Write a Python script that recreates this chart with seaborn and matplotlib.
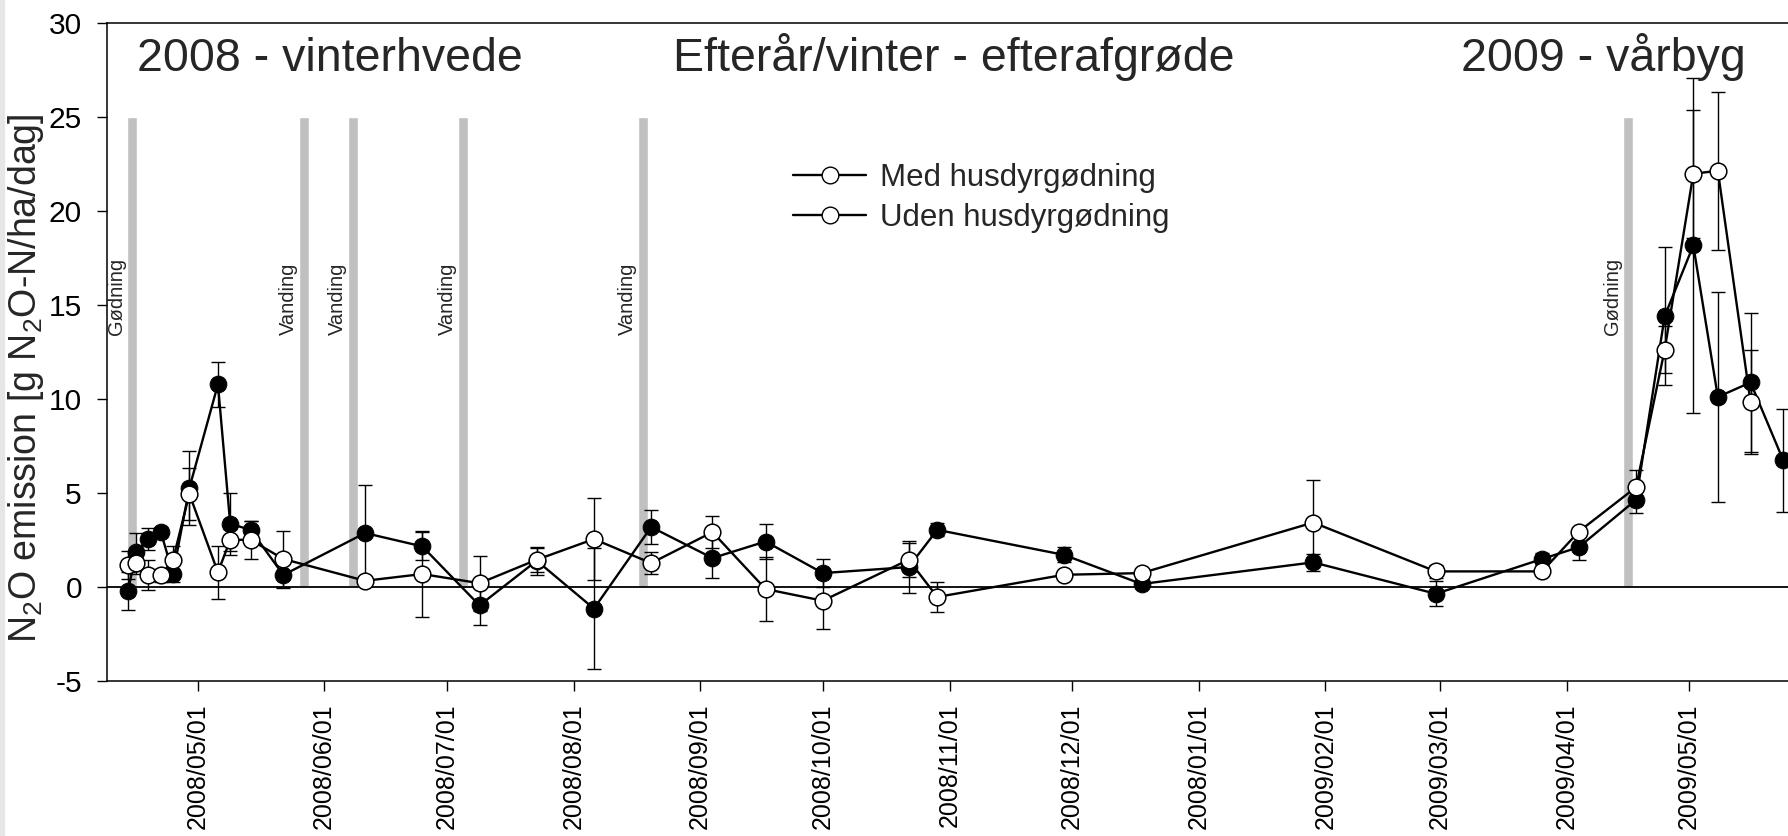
import numpy as np
import pandas as pd
import matplotlib
matplotlib.use('Agg')
import matplotlib.pyplot as plt
from matplotlib.lines import Line2D
from matplotlib.patches import Rectangle
import seaborn as sns

# ============================================================
# DATA
# ============================================================

sample_dates = ['2008-04-14', '2008-04-16', '2008-04-19', '2008-04-22', '2008-04-25',
                '2008-04-29', '2008-05-06', '2008-05-09', '2008-05-14', '2008-05-22',
                '2008-06-11', '2008-06-25', '2008-07-09', '2008-07-23', '2008-08-06',
                '2008-08-20', '2008-09-04', '2008-09-17', '2008-10-01', '2008-10-22',
                '2008-10-29', '2008-11-29', '2008-12-18', '2009-01-29', '2009-02-28',
                '2009-03-26', '2009-04-04', '2009-04-18', '2009-04-25', '2009-05-02',
                '2009-05-08', '2009-05-16', '2009-05-24']

med = [-0.2, 1.85, 2.56, 2.95, 0.7, 5.26, 10.78, 3.36, 3.04, 0.64,
       2.87, 2.16, -0.98, 1.4, -1.15, 3.19, 1.54, 2.42, 0.74, 1.06,
       3.04, 1.71, 0.16, 1.31, -0.36, 1.49, 2.12, 4.64, 14.41, 18.17,
       10.11, 10.88, 6.74]
med_err = [1.0, 1.0, 0.6, 0.2, 0.45, 1.95, 1.2, 1.65, 0.45, 0.7,
           2.55, 0.75, 1.05, 0.75, 3.2, 0.9, 1.05, 0.95, 0.76, 1.4,
           0.35, 0.4, 0.15, 0.44, 0.67, 0.3, 0.67, 0.7, 3.65, 8.9,
           5.6, 3.7, 2.75]

uden = [1.15, 1.27, 0.62, 0.62, 1.45, 4.95, 0.78, 2.51, 2.51, 1.49,
        0.33, 0.69, 0.2, 1.45, 2.55, 1.27, 2.92, -0.11, -0.73, 1.45,
        -0.53, 0.65, 0.74, 3.43, 0.83, 0.83, 2.95, 5.31, 12.63, 21.98,
        22.14, 9.83, np.nan]
uden_err = [0.75, 0.6, 0.8, 0.35, 0.75, 1.4, 1.4, 0.6, 1.0, 1.5,
            0.2, 2.3, 1.45, 0.65, 2.2, 0.6, 0.87, 1.72, 1.5, 0.9,
            0.8, 0.1, 0.1, 2.27, 0.35, 0.1, 0.2, 0.9, 1.27, 3.4,
            4.2, 2.75, np.nan]

series_names = ['Med husdyrgødning', 'Uden husdyrgødning']

# management events (grey bars)
event_dates = ['2008-04-15', '2008-05-27', '2008-06-08', '2008-07-05', '2008-08-18', '2009-04-16']
event_labels = ['Gødning', 'Vanding', 'Vanding', 'Vanding', 'Vanding', 'Gødning']
event_top = 25

# x ticks (the original labels Jan 2009 as 2008/01/01)
tick_dates = ['2008-05-01', '2008-06-01', '2008-07-01', '2008-08-01', '2008-09-01',
              '2008-10-01', '2008-11-01', '2008-12-01', '2009-01-01', '2009-02-01',
              '2009-03-01', '2009-04-01', '2009-05-01']
tick_labels = ['2008/05/01', '2008/06/01', '2008/07/01', '2008/08/01', '2008/09/01',
               '2008/10/01', '2008/11/01', '2008/12/01', '2008/01/01', '2009/02/01',
               '2009/03/01', '2009/04/01', '2009/05/01']
y_ticks = [-5, 0, 5, 10, 15, 20, 25, 30]

season_labels = ['2008 - vinterhvede', 'Efterår/vinter - efterafgrøde', '2009 - vårbyg']

# ============================================================
# PLOT
# ============================================================

sns.set_style('ticks')
plt.rcParams['font.family'] = ['Liberation Sans', 'DejaVu Sans']
plt.rcParams['mathtext.fontset'] = 'custom'
plt.rcParams['mathtext.rm'] = 'Liberation Sans'
plt.rcParams['mathtext.it'] = 'Liberation Sans:italic'

df = pd.DataFrame({'date': pd.to_datetime(sample_dates),
                   'med': med, 'med_err': med_err,
                   'uden': uden, 'uden_err': uden_err})

fig = plt.figure(figsize=(17.88, 8.36), dpi=100)
fig.patches.append(Rectangle((0, 0), 4 / 1788, 1, transform=fig.transFigure,
                             color='#e6e6e6', zorder=0))
ax = fig.add_axes([0.0598, 0.1854, 0.9402, 0.7871])

# grey event bars + labels
ev = pd.to_datetime(event_dates)
ax.bar(ev, event_top, width=2.4, color='#c0c0c0', zorder=1)
for d, lbl in zip(ev, event_labels):
    ax.annotate(lbl, xy=(d, 13.4), xytext=(-6, 0), textcoords='offset pixels',
                rotation=90, ha='right', va='bottom', fontsize=14.5)

ax.axhline(0, color='black', lw=1.3, zorder=2)

# error bars
for col in ['med', 'uden']:
    sub = df.dropna(subset=[col])
    ax.errorbar(sub['date'], sub[col], yerr=sub[col + '_err'], fmt='none',
                ecolor='black', elinewidth=1.0, capsize=5.3, capthick=1.0, zorder=3)

# lines with markers
sub = df.dropna(subset=['med'])
sns.lineplot(x=sub['date'], y=sub['med'], ax=ax, color='black', lw=1.7,
             marker='o', markersize=12, markerfacecolor='black',
             markeredgecolor='black', zorder=4)
sub = df.dropna(subset=['uden'])
sns.lineplot(x=sub['date'], y=sub['uden'], ax=ax, color='black', lw=1.7,
             marker='o', markersize=12, markerfacecolor='white',
             markeredgecolor='black', markeredgewidth=1.1, zorder=5)

# axes
ax.set_xlim(pd.Timestamp('2008-04-08 20:00'), pd.Timestamp('2009-05-25 04:00'))
ax.set_ylim(-5, 30)
ax.set_yticks(y_ticks)
ax.set_yticklabels([str(v) for v in y_ticks])
ax.set_xticks(pd.to_datetime(tick_dates))
ax.set_xticklabels(tick_labels, rotation=90)
ax.tick_params(axis='both', direction='out', length=7, width=1.0,
               color='black', labelcolor='black')
ax.tick_params(axis='y', pad=11, labelsize=21.5)
ax.tick_params(axis='x', pad=9, labelsize=18)
ax.set_xlabel('')
ax.set_ylabel('N$_2$O emission [g N$_2$O-N/ha/dag]', fontsize=27)
ax.yaxis.set_label_coords(-0.0365, 0.46)

for side in ['left', 'bottom', 'top']:
    ax.spines[side].set_visible(True)
    ax.spines[side].set_linewidth(1.1)
    ax.spines[side].set_color('black')
ax.spines['right'].set_visible(False)

# season titles
ax.text(0.0178, 0.927, season_labels[0], transform=ax.transAxes, fontsize=33.5,
        ha='left', va='baseline')
ax.text(0.3367, 0.927, season_labels[1], transform=ax.transAxes, fontsize=33.5,
        ha='left', va='baseline')
ax.text(0.8055, 0.927, season_labels[2], transform=ax.transAxes, fontsize=33.5,
        ha='left', va='baseline')

# legend (both symbols are drawn open in the original)
handles = [Line2D([], [], color='black', lw=1.7, marker='o', markersize=12,
                  markerfacecolor='white', markeredgecolor='black')
           for _ in series_names]
ax.legend(handles, series_names, loc='upper left', bbox_to_anchor=(0.408, 0.787),
          frameon=False, fontsize=22.5, handlelength=2.35, handletextpad=0.45,
          labelspacing=0.32, borderpad=0, borderaxespad=0)

fig.savefig('out.png', dpi=100)
